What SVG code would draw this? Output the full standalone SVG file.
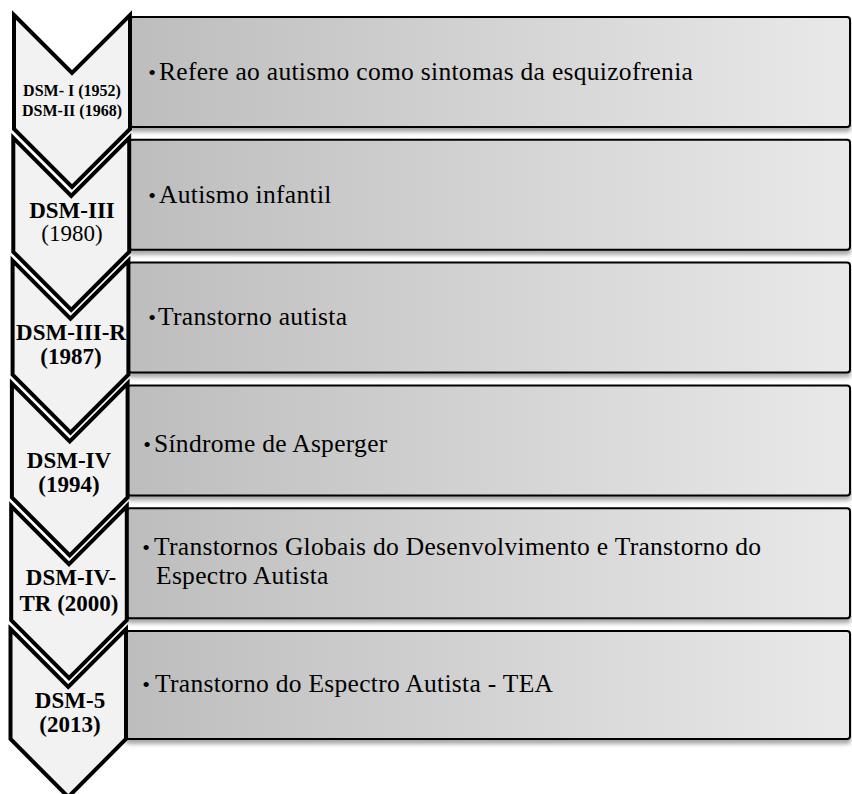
<svg xmlns="http://www.w3.org/2000/svg" width="852" height="794" viewBox="0 0 852 794">
<defs>
<linearGradient id="g" x1="0" y1="0" x2="1" y2="0">
<stop offset="0" stop-color="#bdbdbd"/>
<stop offset="1" stop-color="#e9e9e9"/>
</linearGradient>
<filter id="sh" x="-5%" y="-20%" width="110%" height="150%">
<feDropShadow dx="0" dy="4" stdDeviation="2" flood-color="#000" flood-opacity="0.35"/>
</filter>
</defs>
<style>
.box{fill:url(#g);stroke:#000;stroke-width:2;filter:url(#sh)}
.chev{fill:#f2f2f2;stroke:#000;stroke-width:4;stroke-linejoin:miter;stroke-miterlimit:10}
.lab{font-family:"Liberation Serif","Times New Roman",serif;font-size:23px;font-weight:bold;text-anchor:middle;fill:#000}
.labn{font-weight:normal}
.lab1{font-family:"Liberation Serif","Times New Roman",serif;font-size:16px;font-weight:bold;text-anchor:middle;fill:#000}
.txt{font-family:"Liberation Serif","Times New Roman",serif;font-size:25.5px;letter-spacing:0.3px;fill:#000}
.bul{font-family:"Liberation Serif","Times New Roman",serif;font-size:22px;fill:#000;text-anchor:middle}
</style>
<rect width="852" height="794" fill="#fff"/>

<g id="row1">
<rect class="box" x="130" y="17" width="720" height="110" rx="3"/>
<path class="chev" d="M14,15 L72,73 L130,15 L130,129 L72,187 L14,129 Z"/>
<text class="lab1" x="72" y="96">DSM- I (1952)</text>
<text class="lab1" x="72" y="116">DSM-II (1968)</text>
<text class="bul" x="152" y="80">•</text>
<text class="txt" x="159" y="80">Refere ao autismo como sintomas da esquizofrenia</text>
</g>

<g id="row2">
<rect class="box" x="129.2" y="139.8" width="720.8" height="110" rx="3"/>
<path class="chev" d="M13.3,137.8 L71.25,195.8 L129.2,137.8 L129.2,251.8 L71.25,309.8 L13.3,251.8 Z"/>
<text class="lab" x="72" y="218">DSM-III</text>
<text class="lab labn" x="72" y="241">(1980)</text>
<text class="bul" x="152" y="203">•</text>
<text class="txt" x="159" y="203">Autismo infantil</text>
</g>

<g id="row3">
<rect class="box" x="128.4" y="262.6" width="721.6" height="110" rx="3"/>
<path class="chev" d="M12.6,260.6 L70.5,318.6 L128.4,260.6 L128.4,374.6 L70.5,432.6 L12.6,374.6 Z"/>
<text class="lab" x="71" y="340">DSM-III-R</text>
<text class="lab" x="71" y="364">(1987)</text>
<text class="bul" x="152" y="325">•</text>
<text class="txt" x="158" y="325">Transtorno autista</text>
</g>

<g id="row4">
<rect class="box" x="127.6" y="385.4" width="722.4" height="110" rx="3"/>
<path class="chev" d="M11.9,383.4 L69.75,441.4 L127.6,383.4 L127.6,497.4 L69.75,555.4 L11.9,497.4 Z"/>
<text class="lab" x="69" y="468">DSM-IV</text>
<text class="lab" x="69" y="492">(1994)</text>
<text class="bul" x="147" y="452">•</text>
<text class="txt" x="154" y="452">Síndrome de Asperger</text>
</g>

<g id="row5">
<rect class="box" x="126.8" y="508.2" width="723.2" height="110" rx="3"/>
<path class="chev" d="M11.2,506.2 L69,564.2 L126.8,506.2 L126.8,620.2 L69,678.2 L11.2,620.2 Z"/>
<text class="lab" x="71" y="585">DSM-IV-</text>
<text class="lab" x="69" y="611">TR (2000)</text>
<text class="bul" x="146" y="555">•</text>
<text class="txt" x="154" y="555">Transtornos Globais do Desenvolvimento e Transtorno do</text>
<text class="txt" x="156" y="584">Espectro Autista</text>
</g>

<g id="row6">
<rect class="box" x="126" y="631" width="724" height="108" rx="3"/>
<path class="chev" d="M10.5,629 L68.25,687 L126,629 L126,739 L68.25,797 L10.5,739 Z"/>
<text class="lab" x="70" y="708">DSM-5</text>
<text class="lab" x="70" y="732">(2013)</text>
<text class="bul" x="146" y="692">•</text>
<text class="txt" x="155" y="692">Transtorno do Espectro Autista - TEA</text>
</g>

<g id="connectors"></g>
</svg>
